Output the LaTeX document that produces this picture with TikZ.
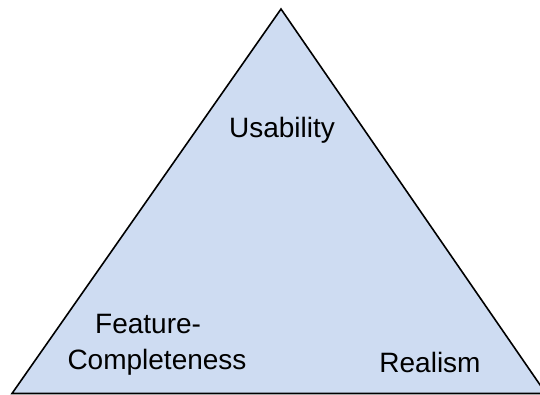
\documentclass[tikz,border=0pt]{standalone}
\usepackage{fontspec}
\setmainfont{Liberation Sans}
\definecolor{pyramidfill}{HTML}{CEDCF2}
\begin{document}
\begin{tikzpicture}[x=1pt,y=-1pt,
  label/.style={inner sep=0pt, font=\fontsize{28}{33}\selectfont}]
\useasboundingbox (0,0) rectangle (540,394);
\begin{scope}
\clip (0,0) rectangle (540,394);
\filldraw[fill=pyramidfill, draw=black, line width=1.6pt, line join=miter]
  (281,9) coordinate (apex) -- (12,393.5) coordinate (bl) -- (546,393.5) coordinate (br) -- cycle;
\end{scope}
\node[label, anchor=base] (usab) at (282,137) {Usability};
\node[label, anchor=base west] (feat) at (95,333) {Feature-};
\node[label, anchor=base] (compl) at (157,369) {Completeness};
\node[label, anchor=base] (real) at (430,372) {Realism};
\end{tikzpicture}
\end{document}
